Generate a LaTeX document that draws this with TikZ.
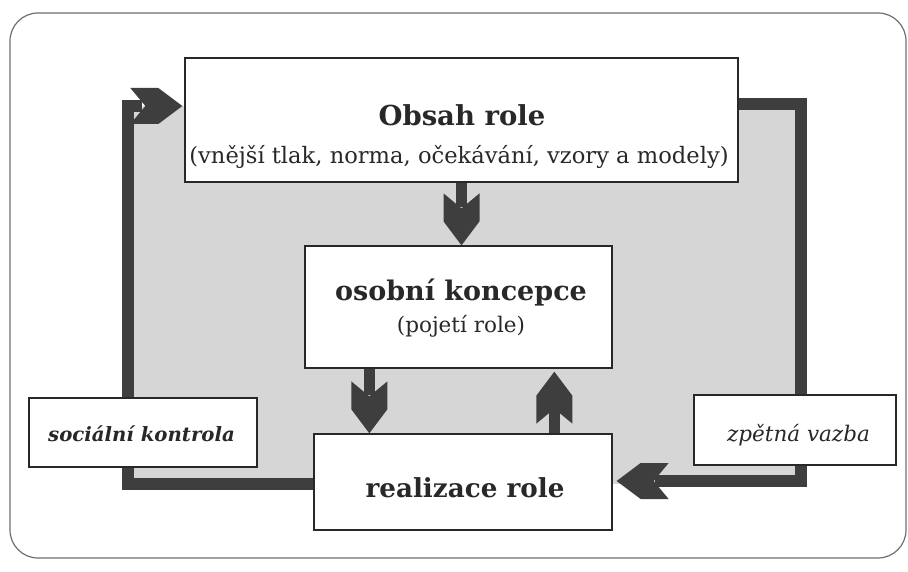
\documentclass[tikz,border=0pt]{standalone}
\usepackage{fontspec}
\setmainfont{DejaVu Serif}
\usetikzlibrary{calc,backgrounds}
\definecolor{ink}{RGB}{40,40,40}
\definecolor{barcol}{RGB}{62,62,62}
\definecolor{shadecol}{RGB}{214,214,214}
\definecolor{framecol}{RGB}{110,110,110}
\tikzset{
  box/.style={draw=ink, line width=1.3pt, fill=white, inner sep=0pt, rectangle},
  loopbar/.style={draw=barcol, line width=12pt, line join=miter},
  shaft/.style={draw=barcol, line width=11pt},
  lbl/.style={anchor=base, inner sep=0pt, text=ink},
  pics/bighead/.style={code={
    \fill[barcol] (0,0) -- (-24,18) -- (-52,18) -- (-37,0) -- (-52,-18) -- (-24,-18) -- cycle;
  }}
}
\begin{document}
\begin{tikzpicture}[x=1pt,y=-1pt]
\useasboundingbox (0,0) rectangle (908,572);
\draw[framecol, line width=1.2pt, rounded corners=28pt] (10,13) rectangle (906,558);

% boxes
\node[box, minimum width=553pt, minimum height=124pt] (obsah) at (461.5,120) {};
\node[box, minimum width=307pt, minimum height=122pt] (osobni) at (458.5,307) {};
\node[box, minimum width=298pt, minimum height=96pt] (realizace) at (463,482) {};
\node[box, minimum width=228pt, minimum height=69pt] (socialni) at (143,432.5) {};
\node[box, minimum width=202pt, minimum height=70pt] (zpetna) at (795,430) {};

% loop coordinates
\coordinate (lb) at (128,484);
\coordinate (lt) at (128,106);
\coordinate (rt) at (801,104);
\coordinate (rb) at (801,481);

\begin{scope}[on background layer]
  \fill[shadecol] (lt) rectangle (rb |- lb);
  \draw[loopbar] (realizace.west |- lb) -- (lb) -- (lt) -- ($(obsah.west |- lt)+(-42,0)$);
  \draw[loopbar] (obsah.east |- rt) -- (rt) -- (rb) -- ($(realizace.east |- rb)+(42,0)$);
\end{scope}
\pic at ($(obsah.west |- lt)+(-2,0)$) {bighead};
\pic[rotate=180] at ($(realizace.east |- rb)+(4,0)$) {bighead};

% inner arrows
\coordinate (d1) at ($(osobni.south west)+(65,0)$);
\coordinate (u1) at ($(osobni.south west)+(250,0)$);
\draw[shaft] (obsah.south) -- ($(obsah.south |- osobni.north)+(0,-38)$);
\pic[rotate=-90] at (obsah.south |- osobni.north) {bighead};
\draw[shaft] (d1) -- ($(d1 |- realizace.north)+(0,-38)$);
\pic[rotate=-90] at (d1 |- realizace.north) {bighead};
\draw[shaft] (u1 |- realizace.north) -- ($(u1)+(0,40)$);
\pic[rotate=90] at ($(u1)+(0,3)$) {bighead};

% texts
\node[lbl, font=\fontsize{27.5}{30}\selectfont\bfseries] (t1) at (462,126) {Obsah role};
\node[lbl, font=\fontsize{22.6}{26}\selectfont] (t2) at (459,164) {(vnější tlak, norma, očekávání, vzory a modely)};
\node[lbl, font=\fontsize{27}{30}\selectfont\bfseries] (t3) at (461,300) {osobní koncepce};
\node[lbl, font=\fontsize{21.5}{25}\selectfont] (t4) at (461,332) {(pojetí role)};
\node[lbl, font=\fontsize{26.2}{30}\selectfont\bfseries] (t5) at (465,497) {realizace role};
\node[lbl, font=\fontsize{19.7}{24}\selectfont\bfseries\itshape] (t6) at (141.5,441.5) {sociální kontrola};
\node[lbl, font=\fontsize{21.5}{25}\selectfont\itshape] (t7) at (798.5,441) {zpětná vazba};
\end{tikzpicture}
\end{document}
